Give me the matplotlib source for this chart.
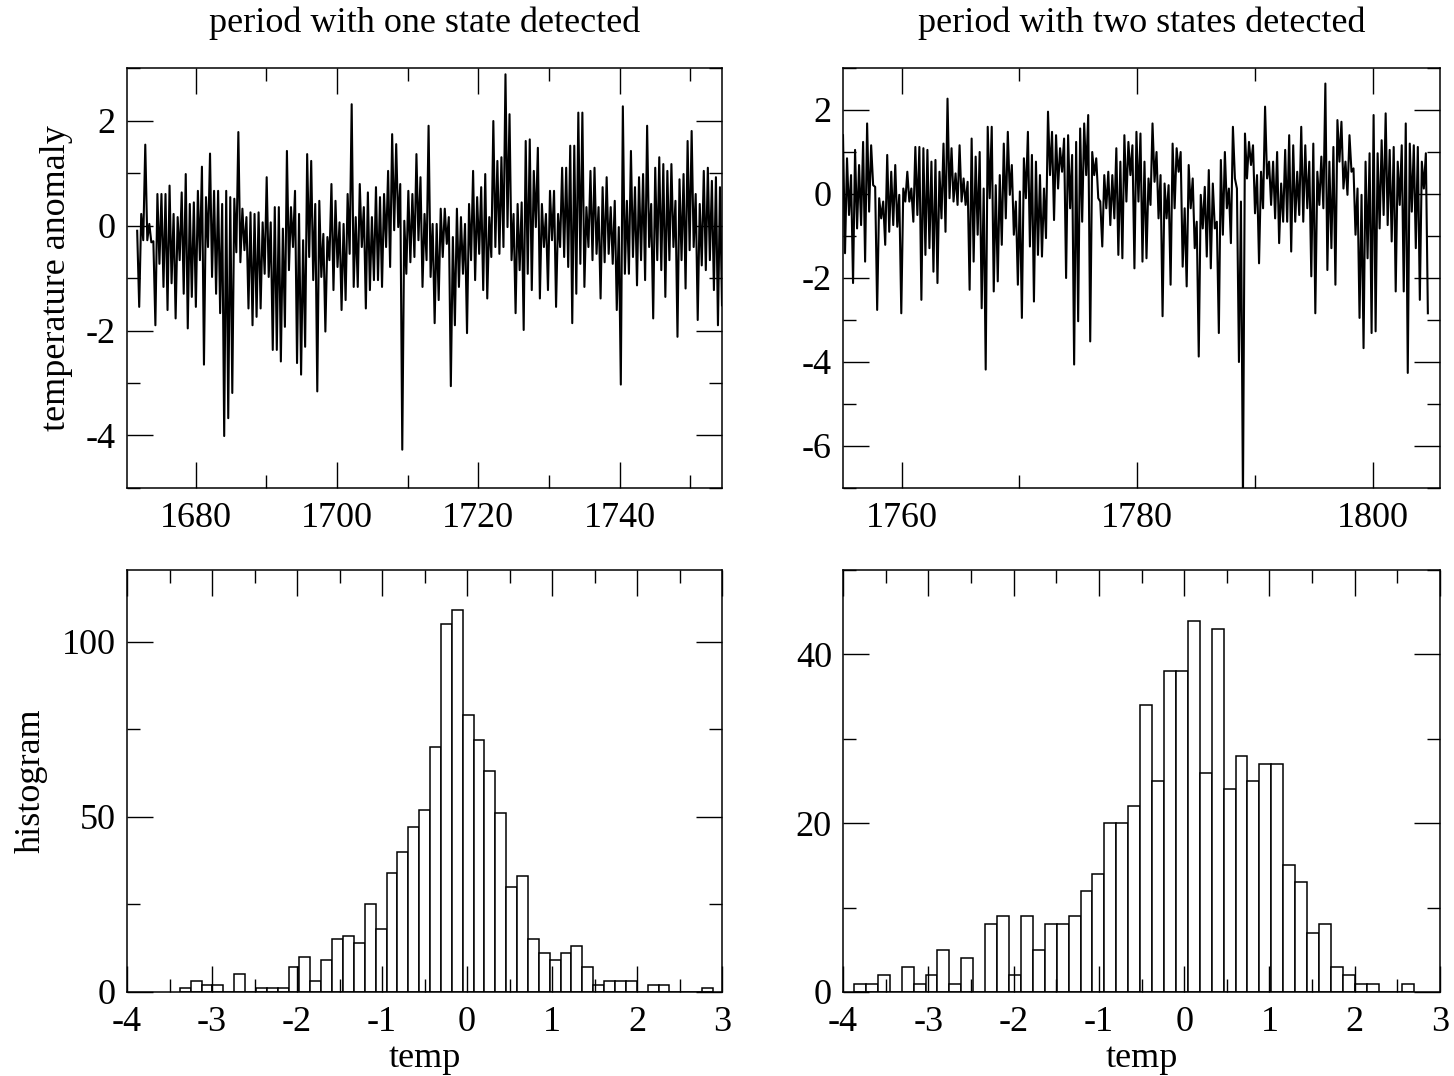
import numpy as np
import matplotlib
matplotlib.use('Agg')
import matplotlib.pyplot as plt
from matplotlib.ticker import MultipleLocator

plt.rcParams['font.family'] = ['Liberation Serif', 'DejaVu Serif']
plt.rcParams['axes.unicode_minus'] = False

# ---------------- data ----------------
# Period 1 (one state): time span and per-group high / low values of the monthly anomaly
p1_start, p1_end = 1671.74, 1754.5
p1_hi = [-0.1, 0.22, 1.54, 0.03, -0.3, 0.6, 0.6, 0.6, 0.76, 0.22, 0.16, 0.63, 0.98, 0.41, 0.44, 0.66, 1.12,
         0.54, 1.37, 0.66, 0.66, 0.41, 0.66, 0.54, 0.51, 1.78, 0.32, 0.16, 0.25, 0.22, 0.25, 0.06, 0.92, 0.06,
         0.35, 0.35, -0.06, 1.42, 0.35, 0.66, 0.22, -0.28, 1.36, 1.23, 0.41, 0.47, -0.16, -0.22, 0.79, 0.47,
         0.06, 0.03, 0.6, 2.31, 0.16, 0.79, 0.35, 0.63, 0.16, 0.73, 0.54, 0.6, 1.04, 1.74, 1.55, 0.79, 0.09,
         0.66, 0.6, 1.36, 0.92, 0.22,
         1.9, 0.03, 0.03, 0.32, 0.32, 0.16, -0.22, 0.32, 0.16, 0.03, 0.41, 1.04, 0.54, 0.73, 0.98, 0.16, 1.99,
         1.23, 1.3, 2.88, 2.12, 0.22, 0.41, 0.44, 1.61, 1.64, 1.04, 1.48, 0.41, 0.22, 0.66, 0.66, 0.22, 1.1,
         1.1, 1.52, 1.52,
         2.15, 2.15, 0.35, 1.04, 1.1, 0.35, 0.73, 0.92, 0.35, 0.47, -0.03, 2.27, 0.47, 1.42, 0.73, 0.92, 0.98,
         1.9, 0.41, 1.1, 1.3, 1.17, 1.04, 1.17, 0.47, 0.88, 0.98, 1.61, 1.8, 0.6, 0.41, 1.04, 1.1, 0.85, 0.92,
         0.73]
p1_lo = [-1.55, -0.28, -0.28, -0.32, -1.9, -0.73, -1.17, -1.61, -1.1, -1.77, -0.66, -1.3, -1.96, -1.36, -1.55,
         -0.66, -2.65, -0.41, -0.98, -1.3, -1.67, -4.01, -3.67, -3.19, -0.51, -0.7, -0.47, -1.58, -1.9, -1.74,
         -1.58, -0.92, -0.98, -2.37,
         -2.37, -2.59, -1.93, -0.85, -0.41, -2.62, -2.84, -2.31, -0.6, -1.04, -3.16, -0.98, -2.02, -0.66, -1.23,
         -0.79, -1.61, -1.42, -0.54, -1.17, -1.17, -0.41, -1.58, -1.23, -1.04, -1.04, -1.17, -0.41, -0.79,
         -0.09, -0.03, -4.27, -0.92, -0.7, -0.6, -0.28, -1.17, -0.66,
         -0.98, -1.86, -1.42, -0.6, -0.35, -3.06, -1.9, -1.17, -0.92, -2.05, -0.66, -1.04, -0.54, -1.23, -1.39,
         -0.6, -0.41, -0.54, -0.41, -0.03, -0.66, -1.67, -0.85, -1.99, -0.92, -1.23, -0.03, -1.39, -0.41, -1.23,
         -0.28, -1.55, -0.41, -0.6, -0.79, -1.86, -1.3,
         -0.73, -1.17, -0.41, -0.66, -0.54, -1.39, -0.7, -0.54, -0.73, -1.61, -3.03, -0.92, -0.92, -0.6, -1.14,
         -0.66, -1.04, -0.41, -1.77, -0.66, -0.85, -1.36, -0.66, -0.41, -2.12, -0.66, -1.2, -0.47, -0.41, -1.8,
         -0.76, -0.85, -0.66, -1.23, -1.9, -1.52]

# Period 2 (two states)
p2_start, p2_end = 1755.03, 1804.67
p2_hi = [1.4, 0.85, 0.45, 1.05, 0.69, 1.24, 1.68, 1.16, 0.17, -0.1, -0.18, 0.93, 0.53, 0.69, -0.02, 0.13, 0.53,
         0.13, 1.12, 1.12, 1.09, 1.05, 0.77, 0.81, 0.53, 1.2, 2.27, 1.09, 0.49, 1.16, 0.37, 0.29, 1.32, 0.89,
         1.0, 0.13, 1.6,
         1.6, 0.21, 0.45, 1.2, 1.48, 0.69, -0.18, 0.06, 0.85, 1.48, 0.93, 0.77, 0.45, 0.13, 1.96, 1.48, 1.4,
         1.09, 1.32, 1.4, 0.93, 1.24, 1.56, 1.68, 1.88, 1.0, 0.85, -0.18, 0.45, 0.53, 0.45, 1.09, 0.77, 1.4,
         1.24, 1.16, 1.48,
         1.44, 0.77, 0.37, 1.68, 1.0, 0.45, 0.25, 0.21, 1.2, 1.09, 1.0, -0.34, 0.69, 0.37, -0.66, -0.02, 0.17,
         0.57, 0.25, -0.66, 0.81, 1.0, 0.13, 1.6, 0.13, -0.18, 1.44, 1.24, 1.16, 0.45, 0.53, 2.08, 0.77, 0.77,
         1.0, 0.25, 1.05, 1.4,
         1.16, 0.53, 1.6, 1.16, 0.77, 1.2, 0.53, 0.89, 2.63, 0.77, 1.12, 1.76, 1.72, 0.77, 1.4, 0.61, 0.13,
         -0.02, 0.77, 0.97, 1.88, 0.97, 1.28, 1.92, 1.05, 1.12, 0.77, 1.16, 1.68, 1.2, 1.16, 1.12, 0.77, 0.97]
p2_lo = [-1.41, -0.5, -2.12, -0.82, -0.74, -1.61, -0.42, 0.21, -2.76, -0.58, -1.21, -0.9, -0.74, -0.78, -2.84,
         -0.18, -0.18, -0.66, -0.5, -2.52, -1.45, -1.29, -1.85, -2.12, -0.58, -0.9, -0.1, -0.18, -0.26, -0.18,
         -0.26, -2.28, -1.61, -0.97, -2.72, -4.18, -0.1,
         -2.32, -2.08, -1.21, -0.58, -0.02, -0.97, -2.16, -2.95, -0.1, -1.25, -2.56, -1.45, -1.49, -1.05, 0.45,
         -0.62, 0.13, 0.53, -2.0, -0.34, -4.06, -3.03, -0.66, 0.45, -3.51, 0.45, -0.1, -1.25, -0.34, -0.74,
         -0.58, -1.45, -1.53, -0.18, 0.45, -1.77, -0.18,
         -1.61, -1.53, -0.26, 0.29, -0.58, -2.91, -0.58, -2.16, -0.34, 0.53, -1.73, -2.2, -0.34, -1.29, -3.87,
         -0.82, -1.49, -1.77, -0.82, -3.31, -0.97, -0.34, -1.17, 0.37, -4.0, -7.3, 0.37, 0.69, -0.46, -1.65,
         -0.34, 0.37, -0.26, -0.58, -1.17, -0.66, -0.66, -1.37,
         -0.66, -0.5, -0.66, -0.34, -1.96, -2.84, -0.26, -0.34, -1.81, -1.29, -2.16, 0.77, 0.13, -0.02, 0.53,
         -0.97, -2.95, -3.67, -1.53, -3.31, -3.27, -0.82, -0.5, -0.74, -1.13, -2.32, -0.26, -2.32, -4.26,
         -0.42, -1.29, -2.52, 0.13, -2.84]

# Histograms: first bin edge, bin width, counts
h1_first_edge, h1_bin_width = -3.379, 0.128
h1_counts = [1, 3, 2, 2, 0, 5, 0, 1, 1, 1, 7, 10, 3, 9, 15, 16, 14, 25, 18, 34, 40, 47, 52, 70, 105, 109,
             79, 72, 63, 51, 30, 33, 15, 11, 9, 11, 13, 7, 2, 3, 3, 3, 0, 2, 2, 0, 0, 0, 1]
h2_first_edge, h2_bin_width = -3.871, 0.1398
h2_counts = [1, 1, 2, 0, 3, 1, 2, 5, 1, 4, 0, 8, 9, 2, 9, 5, 8, 8, 9, 12, 14, 20, 20, 22, 34, 25, 38, 38,
             44, 26, 43, 24, 28, 25, 27, 27, 15, 13, 7, 8, 3, 2, 1, 1, 0, 0, 1]

titles = ['period with one state detected', 'period with two states detected']

# ---------------- figure ----------------
W, H = 1454, 1076
fig = plt.figure(figsize=(W / 100, H / 100), dpi=100)


def add_ax(x0, y0, x1, y1):
    return fig.add_axes([x0 / W, 1 - y1 / H, (x1 - x0) / W, (y1 - y0) / H])


ax_tl = add_ax(127, 68, 722, 488)
ax_tr = add_ax(843, 68, 1440, 488)
ax_bl = add_ax(127, 570, 722, 992)
ax_br = add_ax(843, 570, 1440, 992)

FS = 26


def style(ax, xmaj, xmin, ymaj, ymin):
    ax.xaxis.set_major_locator(MultipleLocator(xmaj))
    ax.xaxis.set_minor_locator(MultipleLocator(xmin))
    ax.yaxis.set_major_locator(MultipleLocator(ymaj))
    ax.yaxis.set_minor_locator(MultipleLocator(ymin))
    ax.tick_params(which='both', direction='in', top=True, right=True, width=1.0,
                   labelsize=FS, color='black')
    ax.tick_params(which='major', length=19)
    ax.tick_params(which='minor', length=9.5)
    ax.tick_params(axis='x', pad=10)
    ax.tick_params(axis='y', pad=8)
    for s in ax.spines.values():
        s.set_linewidth(1.1)


def series(ax, start, end, hi, lo):
    vals = np.empty(2 * len(hi))
    vals[0::2] = hi
    vals[1::2] = lo
    t = np.linspace(start, end, len(vals))
    ax.plot(t, vals, color='black', lw=1.5)


series(ax_tl, p1_start, p1_end, p1_hi, p1_lo)
ax_tl.set_xlim(1670.3, 1754.5)
ax_tl.set_ylim(-5, 3)
style(ax_tl, 20, 10, 2, 1)
ax_tl.set_ylabel('temperature anomaly', fontsize=FS, labelpad=9)
ax_tl.set_title(titles[0], fontsize=FS, pad=26)

series(ax_tr, p2_start, p2_end, p2_hi, p2_lo)
ax_tr.set_xlim(1755.03, 1805.7)
ax_tr.set_ylim(-7, 3)
style(ax_tr, 20, 10, 2, 1)
ax_tr.set_title(titles[1], fontsize=FS, pad=26)


def hist(ax, first, w, counts):
    edges = first + w * np.arange(len(counts))
    ax.bar(edges, counts, width=w, align='edge', facecolor='white',
           edgecolor='black', lw=1.1)


hist(ax_bl, h1_first_edge, h1_bin_width, h1_counts)
ax_bl.set_xlim(-4, 3)
ax_bl.set_ylim(0, 120.5)
style(ax_bl, 1, 0.5, 50, 25)
ax_bl.set_ylabel('histogram', fontsize=FS, labelpad=10)
ax_bl.set_xlabel('temp', fontsize=FS, labelpad=2)

hist(ax_br, h2_first_edge, h2_bin_width, h2_counts)
ax_br.set_xlim(-4, 3)
ax_br.set_ylim(0, 50)
style(ax_br, 1, 0.5, 20, 10)
ax_br.set_xlabel('temp', fontsize=FS, labelpad=2)

fig.savefig('out.png', dpi=100)
